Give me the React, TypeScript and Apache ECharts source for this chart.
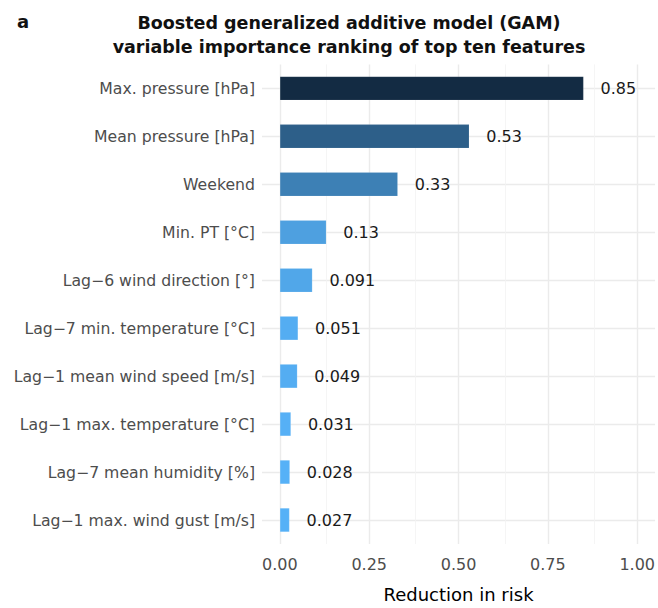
import React, { useEffect, useRef } from "react";
import * as echarts from "echarts";

const categories = [
  "Max. pressure [hPa]",
  "Mean pressure [hPa]",
  "Weekend",
  "Min. PT [°C]",
  "Lag−6 wind direction [°]",
  "Lag−7 min. temperature [°C]",
  "Lag−1 mean wind speed [m/s]",
  "Lag−1 max. temperature [°C]",
  "Lag−7 mean humidity [%]",
  "Lag−1 max. wind gust [m/s]",
];
const values = [0.85, 0.53, 0.33, 0.13, 0.091, 0.051, 0.049, 0.031, 0.028, 0.027];
const valueLabels = ["0.85", "0.53", "0.33", "0.13", "0.091", "0.051", "0.049", "0.031", "0.028", "0.027"];
const xTicks = [0, 0.25, 0.5, 0.75, 1.0];
const xMinorTicks = [0.125, 0.375, 0.625, 0.875];

const LOW = [86, 177, 247];
const HIGH = [19, 43, 67];
function fillFor(v: number, lo: number, hi: number) {
  const t = (v - lo) / (hi - lo);
  const c = LOW.map((l, i) => Math.round(l + (HIGH[i] - l) * t));
  return `rgb(${c[0]},${c[1]},${c[2]})`;
}

export default function App() {
  const ref = useRef<HTMLDivElement>(null);
  useEffect(() => {
    if (!ref.current) return;
    const chart = echarts.init(ref.current, null, { renderer: "svg" });
    const lo = Math.min(...values);
    const hi = Math.max(...values);
    const font = "DejaVu Sans, sans-serif";
    chart.setOption({
      animation: false,
      backgroundColor: "#ffffff",
      title: [
        {
          text: "Boosted generalized additive model (GAM)\nvariable importance ranking of top ten features",
          left: 344,
          top: 6,
          textAlign: "center",
          textStyle: {
            fontFamily: font,
            fontWeight: "bold",
            fontSize: 17.5,
            lineHeight: 24,
            color: "#111111",
          },
        },
        {
          text: "a",
          left: 12,
          top: 7,
          textStyle: { fontFamily: font, fontWeight: "bold", fontSize: 18, color: "#111111" },
        },
      ],
      grid: { left: 262, right: 2, top: 64.4, bottom: 52.4, containLabel: false },
      xAxis: {
        type: "value",
        min: -0.05,
        max: 1.05,
        name: "Reduction in risk",
        nameLocation: "middle",
        nameGap: 41,
        nameTextStyle: { fontFamily: font, fontSize: 18, color: "#000000" },
        axisLine: { show: false },
        axisTick: { show: false },
        splitLine: { show: false },
        axisLabel: {
          customValues: xTicks,
          formatter: (v: number) => v.toFixed(2),
          fontFamily: font,
          fontSize: 16,
          color: "#4d4d4d",
          margin: 12,
        },
      },
      yAxis: {
        type: "category",
        inverse: true,
        data: categories,
        axisLine: { show: false },
        axisTick: { show: false },
        splitLine: { show: false },
        axisLabel: {
          fontFamily: font,
          fontSize: 15.7,
          color: "#4d4d4d",
          margin: 7,
        },
      },
      series: [
        {
          type: "bar",
          barWidth: "50%",
          z: 3,
          data: values.map((v, i) => ({
            value: v,
            itemStyle: { color: fillFor(v, lo, hi), borderColor: "rgba(255,255,255,0.25)", borderWidth: 0.5 },
            label: { formatter: valueLabels[i] },
          })),
          label: {
            show: true,
            position: "right",
            distance: 17,
            fontFamily: font,
            fontSize: 16,
            color: "#1a1a1a",
          },
          markLine: {
            silent: true,
            symbol: "none",
            label: { show: false },
            z: 1,
            data: [
              ...categories.map((c) => ({ yAxis: c, lineStyle: { color: "#ebebeb", width: 1.4, type: "solid" } })),
              ...xTicks.map((t) => ({ xAxis: t, lineStyle: { color: "#ebebeb", width: 1.4, type: "solid" } })),
              ...xMinorTicks.map((t) => ({ xAxis: t, lineStyle: { color: "#f3f3f3", width: 0.8, type: "solid" } })),
            ],
          },
        },
      ],
    });
    return () => chart.dispose();
  }, []);
  return (
    <div
      ref={ref}
      style={{ position: "fixed", left: 0, top: 0, width: 658, height: 608, background: "#fff" }}
    />
  );
}
